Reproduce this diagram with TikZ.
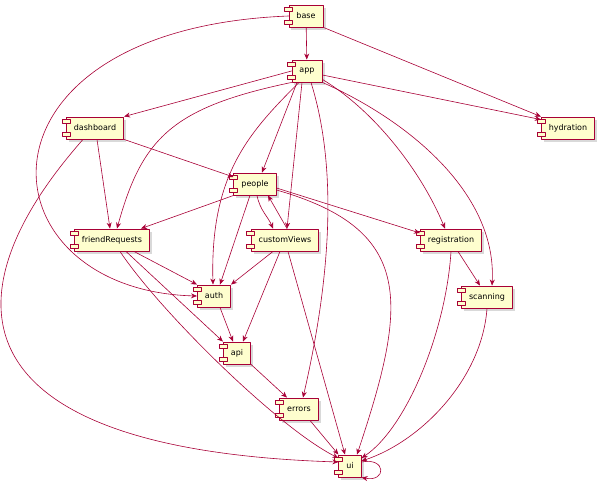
\documentclass[tikz,border=0pt]{standalone}
\usepackage{fontspec}
\setmainfont{DejaVu Sans}
\usetikzlibrary{arrows.meta,shadows}
\definecolor{compfill}{HTML}{FEFECE}
\definecolor{compline}{HTML}{A80036}
\begin{document}
\begin{tikzpicture}[x=1pt,y=-1pt,line cap=round,line join=round,
  comp/.style={draw=compline,fill=compfill,line width=0.9pt,minimum height=22pt,
    inner xsep=7.5pt,inner ysep=0pt,font=\fontsize{8}{9.6}\selectfont,
    drop shadow={shadow xshift=2.5pt,shadow yshift=-2.5pt,opacity=0.3}},
  tab/.style={draw=compline,fill=compfill,line width=0.6pt},
  dep/.style={draw=compline,line width=0.6pt,-{Stealth[length=6pt,width=5pt]}}]
  \useasboundingbox (0,0) rectangle (600,485);
  \node[comp] (base) at (306,16) {base};
  \node[comp] (app) at (307,71) {app};
  \node[comp] (hydration) at (568,128) {hydration};
  \node[comp] (dashboard) at (95,128) {dashboard};
  \node[comp] (people) at (255,184) {people};
  \node[comp] (friendRequests) at (112,240) {friendRequests};
  \node[comp] (customViews) at (285,240) {customViews};
  \node[comp] (registration) at (451,240) {registration};
  \node[comp] (auth) at (214,296) {auth};
  \node[comp] (scanning) at (487,297) {scanning};
  \node[comp] (api) at (237,353) {api};
  \node[comp] (errors) at (299,409) {errors};
  \node[comp] (ui) at (350,466) {ui};
  \foreach \n in {base,app,hydration,dashboard,people,friendRequests,customViews,
      registration,auth,scanning,api,errors,ui}{
    \draw[tab] ([xshift=-4pt,yshift=-3pt]\n.north west) rectangle ++(8,4);
    \draw[tab] ([xshift=-4pt,yshift=3pt]\n.south west) rectangle ++(8,-4);
  }
  % dependencies
  \draw[dep] (base) -- (app);
  \draw[dep] (base.south east) -- (hydration.north west);
  \draw[dep] (base.west) .. controls +(-329,13) and +(-218,-6) .. (auth.west);
  \draw[dep] ([yshift=-4pt]app.east) -- ([yshift=-3pt]hydration.north west);
  \draw[dep] (app.west) -- (dashboard.north east);
  \draw[dep] (app.south west) .. controls +(-120,25) and +(25,-90) .. ([xshift=5pt]friendRequests.north);
  \draw[dep] ([xshift=-10pt]app.south) -- ([xshift=7pt]people.north);
  \draw[dep] ([xshift=-8pt]app.south) .. controls +(-50,50) and +(-3,-110) .. ([xshift=-1pt]auth.north);
  \draw[dep] ([xshift=-5pt]app.south) -- ([xshift=2pt]customViews.north);
  \draw[dep] ([xshift=4pt]app.south) .. controls +(25,80) and +(30,-130) .. ([xshift=4pt]errors.north);
  \draw[dep] ([yshift=3pt]app.south east) .. controls +(50,30) and +(-25,-60) .. ([xshift=-6pt]registration.north);
  \draw[dep] (app.south east) .. controls +(90,40) and +(5,-90) .. ([xshift=5pt]scanning.north);
  \draw[dep] ([xshift=2pt]dashboard.south) -- ([xshift=-2pt]friendRequests.north);
  \draw[dep] (dashboard.south east) -- ([yshift=7pt]people.west);
  \draw[dep] ([xshift=-12pt]dashboard.south) .. controls +(-143,162) and +(-378,-12) .. ([yshift=4pt]ui.west);
  \draw[dep] (people.south west) -- ([xshift=-9pt]friendRequests.north east);
  \draw[dep] ([xshift=-5pt]people.south) -- ([xshift=6pt]auth.north);
  \draw[dep] ([xshift=2pt]people.south) .. controls +(3,15) and +(-5,-12) .. ([xshift=-12pt]customViews.north);
  \draw[dep] ([xshift=2pt]customViews.north) -- ([xshift=13pt]people.south);
  \draw[dep] ([yshift=-4pt]people.east) -- ([yshift=7pt]registration.west);
  \draw[dep] ([yshift=-6pt]people.east) .. controls +(140,40) and +(50,-150) .. ([xshift=7pt]ui.north);
  \draw[dep] ([xshift=-16pt]friendRequests.south east) -- (auth.north west);
  \draw[dep] ([xshift=-24pt]friendRequests.south east) -- (api.north west);
  \draw[dep] ([xshift=8pt]friendRequests.south) .. controls +(40,60) and +(-60,-30) .. ([yshift=8pt]ui.west);
  \draw[dep] ([xshift=-12pt]customViews.south) -- (auth.north east);
  \draw[dep] ([xshift=-5pt]customViews.south) -- ([xshift=6pt]api.north);
  \draw[dep] ([xshift=3pt]customViews.south) -- ([xshift=-5pt]ui.north);
  \draw[dep] ([xshift=6pt]auth.south) -- ([xshift=-4pt]api.north);
  \draw[dep] (api.south east) -- ([xshift=-12pt]errors.north);
  \draw[dep] ([xshift=11pt]errors.south) -- (ui.north west);
  \draw[dep] ([xshift=7pt]registration.south) -- ([xshift=-7pt]scanning.north);
  \draw[dep] (registration.south) .. controls +(-5,80) and +(45,-30) .. ([yshift=8pt]ui.east);
  \draw[dep] (scanning.south) .. controls +(-5,70) and +(60,-20) .. ([yshift=5pt]ui.east);
  \draw[dep] ([yshift=4pt]ui.east) .. controls +(25,-5) and +(25,5) .. (ui.south east);
\end{tikzpicture}
\end{document}
